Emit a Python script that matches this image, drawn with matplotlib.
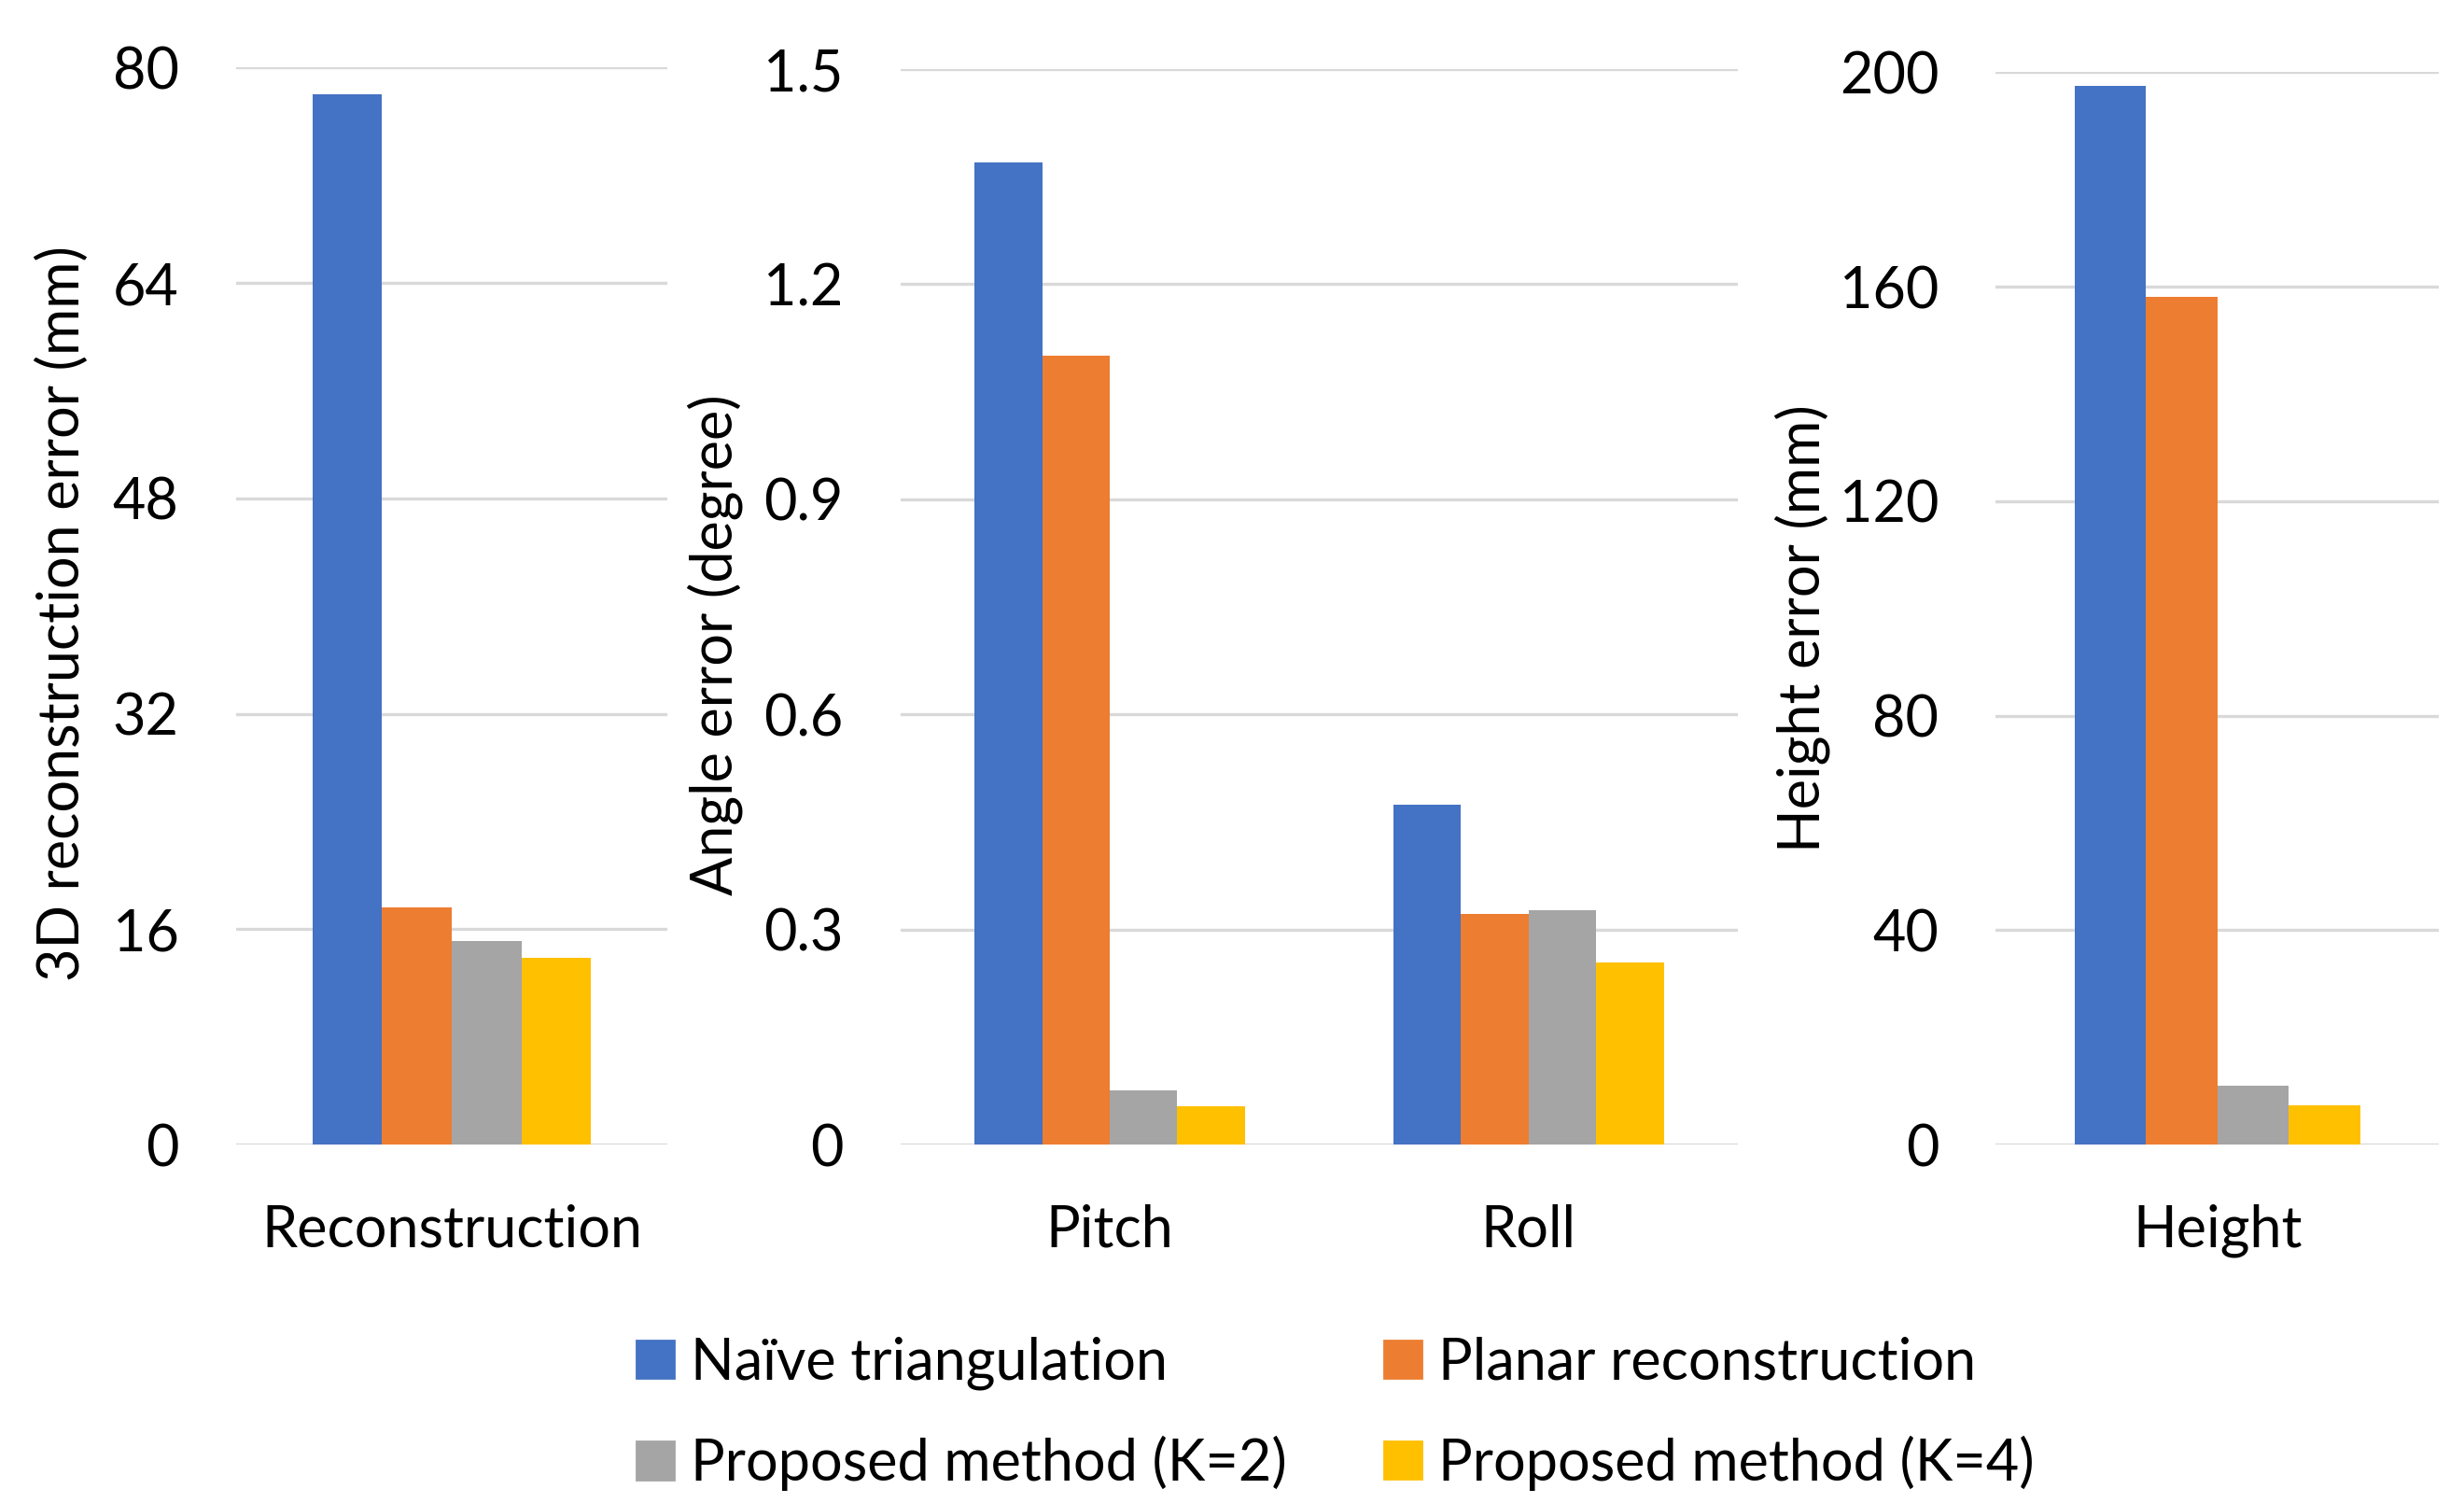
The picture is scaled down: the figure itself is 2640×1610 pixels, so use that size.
import matplotlib.pyplot as plt
from matplotlib.patches import Patch

plt.rcParams['font.family'] = ['Lato', 'DejaVu Sans']

series = ["Naïve triangulation", "Planar reconstruction",
          "Proposed method (K=2)", "Proposed method (K=4)"]
colors = ["#4472c4", "#ed7d31", "#a5a5a5", "#ffc000"]

# panel 1: 3D reconstruction error (mm)
recon_cats = ["Reconstruction"]
recon_vals = [[78.0], [17.6], [15.1], [13.9]]

# panel 2: angle error (degree)
angle_cats = ["Pitch", "Roll"]
angle_vals = [[1.37, 0.474], [1.10, 0.322], [0.075, 0.327], [0.053, 0.254]]

# panel 3: height error (mm)
height_cats = ["Height"]
height_vals = [[197.4], [158.1], [10.9], [7.3]]

panels = [
    (recon_cats, recon_vals, "3D reconstruction error (mm)", 80, 16, "{:.0f}",
     [0.0957, 0.2385, 0.1753, 0.7165], (-0.40, 0.493)),
    (angle_cats, angle_vals, "Angle error (degree)", 1.5, 0.3, "{:g}",
     [0.3654, 0.2385, 0.3400, 0.7155], (-0.221, 0.465)),
    (height_cats, height_vals, "Height error (mm)", 200, 40, "{:.0f}",
     [0.8100, 0.2385, 0.1798, 0.7135], (-0.436, 0.481)),
]

fs = 22
fig = plt.figure(figsize=(13.2, 8.05), dpi=200)
group_w = 0.645
bar_w = group_w / 4

for cats, vals, ylabel, ymax, step, fmt, rect, lab_xy in panels:
    ax = fig.add_axes(rect)
    xs = list(range(len(cats)))
    for i, (v, c) in enumerate(zip(vals, colors)):
        pos = [x - group_w / 2 + bar_w * (i + 0.5) for x in xs]
        ax.bar(pos, v, width=bar_w, color=c, zorder=3)
    ax.set_xlim(-0.5, len(cats) - 0.5)
    ax.set_ylim(0, ymax)
    ticks = [step * k for k in range(int(round(ymax / step)) + 1)]
    ax.set_yticks(ticks)
    ax.set_yticklabels([fmt.format(t) for t in ticks])
    ax.set_xticks(xs)
    ax.set_xticklabels(cats)
    ax.grid(axis='y', color='#d9d9d9', linewidth=1.2, zorder=0)
    ax.set_axisbelow(True)
    for s in ax.spines.values():
        s.set_visible(False)
    ax.tick_params(axis='both', length=0, labelsize=fs, colors='black')
    ax.tick_params(axis='y', pad=22)
    ax.tick_params(axis='x', pad=23)
    ax.set_ylabel(ylabel, fontsize=fs, va='center')
    ax.yaxis.set_label_coords(*lab_xy)

handles = [Patch(color=c) for c in colors]
order = [0, 2, 1, 3]
fig.legend([handles[i] for i in order], [series[i] for i in order],
           loc='center', bbox_to_anchor=(0.542, 0.0595), ncol=2, frameon=False,
           fontsize=fs, handlelength=0.65, handleheight=0.65,
           columnspacing=1.7, labelspacing=0.8, handletextpad=0.3)

fig.savefig("out.png", dpi=200, facecolor='white')
